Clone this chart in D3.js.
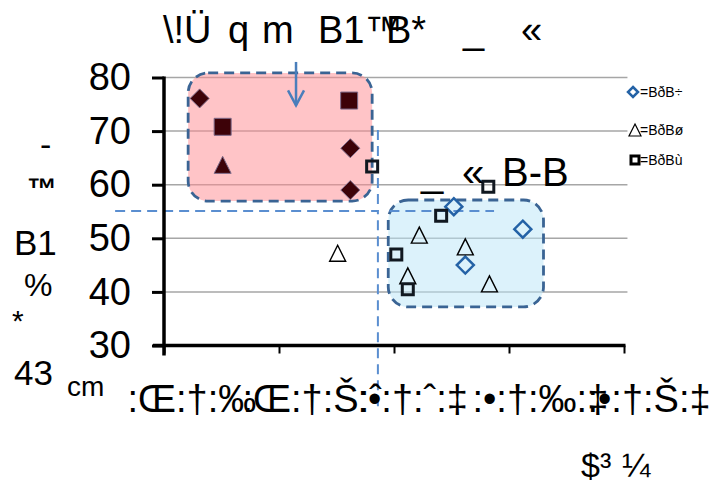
<!DOCTYPE html>
<html>
<head>
<meta charset="utf-8">
<script src="https://cdn.jsdelivr.net/npm/d3@7"></script>
<style>
  body { margin: 0; background: #fff; }
  text { font-family: "Liberation Sans", Arial, sans-serif; fill: #000; }
</style>
</head>
<body>
<svg id="chart" width="717" height="484"></svg>
<script>
/* Data */

const xTicks = [0, 1, 2, 3, 4];
const xLabels = [":Œ:†:‰", ":Œ:†:Š:ˆ", ":•:†:ˆ:‡", ":•:†:‰:‡", ":•:†:Š:‡"];
const yTicks = [30, 40, 50, 60, 70, 80];
const gridTicks = [40, 50, 60, 70, 80];
const seriesNames = ["=BðB÷", "=BðBø", "=BðBù"];

// [x, y, inRedGroup]
const diamonds = [[0.31, 76.1, 1], [1.62, 66.8, 1], [1.62, 59.0, 1],
                  [2.52, 55.9, 0], [3.12, 51.7, 0], [2.62, 45.0, 0]];
const triangles = [[0.51, 63.7, 1], [1.51, 47.2, 0], [2.22, 50.6, 0],
                   [2.62, 48.4, 0], [2.12, 43.0, 0], [2.83, 41.5, 0]];
const squares = [[0.51, 70.8, 1], [1.61, 75.7, 1], [1.81, 63.4, 0], [2.82, 59.6, 0],
                 [2.41, 54.2, 0], [2.02, 47.0, 0], [2.12, 40.5, 0]];

const titleParts = ["\\!Ü", "q", "m", "B1™", "B*", "_", "«"];
const yTitleParts = ["-", "™", "B1", "%", "*", "43"];
const xUnit = "cm";
const xTitle = ["$³", "¼"];
const clusterLabel = ["_", "«", "B-B"];

// annotation extents in data units
const redBox = [0.21, 1.81, 80.85, 56.95];
const blueBox = [1.95, 3.30, 57.15, 37.2];
const guideY = 55.1, guideX = 1.86;
const arrowX = 1.148, arrowTop = 82.9, arrowTip = 74.8;

/* Chart */

const svg = d3.select("#chart");

const x = d3.scaleLinear().domain([0, 4]).range([164, 624]);
const y = d3.scaleLinear().domain([30, 80]).range([345.5, 77.5]);

/* Gridlines */

svg.append("g").selectAll("line")
  .data(gridTicks)
  .enter().append("line")
  .attr("x1", x(0)).attr("x2", x(4.03))
  .attr("y1", d => y(d)).attr("y2", d => y(d))
  .attr("stroke", "#a6a6a6").attr("stroke-width", 1.5);

/* Cluster boxes */

function box(b, fill) {
  svg.append("rect")
    .attr("x", x(b[0])).attr("y", y(b[2]))
    .attr("width", x(b[1]) - x(b[0]))
    .attr("height", y(b[3]) - y(b[2]))
    .attr("rx", 20).attr("ry", 20)
    .attr("fill", fill).attr("fill-opacity", 0.5)
    .attr("stroke", "#3a6494").attr("stroke-width", 2.8)
    .attr("stroke-dasharray", "10,6");
}
box(redBox, "#ff8a90");
box(blueBox, "#b9e5f7");

/* Guide lines */

const guide = svg.append("g")
  .attr("stroke", "#5a8ed0").attr("stroke-width", 2)
  .attr("stroke-dasharray", "10,6").attr("fill", "none");
guide.append("path")
  .attr("d", d3.line()([[x(-0.425), y(guideY)], [x(guideX), y(guideY)], [x(guideX), 412]]));
guide.append("line")
  .attr("x1", x(guideX)).attr("x2", x(guideX))
  .attr("y1", y(70.2)).attr("y2", y(guideY));
guide.append("line")
  .attr("x1", x(1.96)).attr("x2", x(2.87))
  .attr("y1", y(guideY)).attr("y2", y(guideY));

/* Arrow */

const ax = x(arrowX), aTip = y(arrowTip);
svg.append("line")
  .attr("x1", ax).attr("x2", ax)
  .attr("y1", y(arrowTop)).attr("y2", aTip)
  .attr("stroke", "#4a7ebb").attr("stroke-width", 2.5);
svg.append("path")
  .attr("d", d3.line()([[ax - 8, aTip - 15], [ax, aTip], [ax + 8, aTip - 15]]))
  .attr("fill", "none").attr("stroke", "#4a7ebb").attr("stroke-width", 2.5);

/* Axes */

const yAxis = svg.append("g")
  .attr("transform", "translate(" + x(0) + ",0)")
  .call(d3.axisLeft(y).tickValues(yTicks).tickSize(12).tickPadding(21));
yAxis.select(".domain").remove();
yAxis.selectAll(".tick line").attr("stroke", "#000").attr("stroke-width", 3);
yAxis.selectAll(".tick text").attr("font-size", 38).attr("font-family", null).attr("fill", "#000");

const xAxis = svg.append("g")
  .attr("transform", "translate(0," + y(30) + ")")
  .call(d3.axisBottom(x).tickValues(xTicks).tickSize(8).tickFormat((d, i) => xLabels[i]));
xAxis.select(".domain").remove();
xAxis.selectAll(".tick line").attr("stroke", "#000").attr("stroke-width", 2);
xAxis.selectAll(".tick text")
  .attr("font-size", 38).attr("font-family", null).attr("fill", "#000")
  .attr("text-anchor", "start").attr("x", -37).attr("y", 66).attr("dy", 0);

svg.append("line")
  .attr("x1", x(0)).attr("x2", x(0))
  .attr("y1", y(80) - 1).attr("y2", y(30) + 10)
  .attr("stroke", "#000").attr("stroke-width", 3.5);
svg.append("line")
  .attr("x1", x(0) - 11).attr("x2", x(4) + 1.5)
  .attr("y1", y(30)).attr("y2", y(30))
  .attr("stroke", "#000").attr("stroke-width", 3.5);

/* Markers */

const diamondType = { draw(ctx, size) { const r = Math.sqrt(size) / 2;
  ctx.moveTo(0, -r); ctx.lineTo(r, 0); ctx.lineTo(0, r); ctx.lineTo(-r, 0); ctx.closePath(); } };
const triangleType = { draw(ctx, size) { const r = Math.sqrt(size) / 2;
  ctx.moveTo(0, -r); ctx.lineTo(r, r); ctx.lineTo(-r, r); ctx.closePath(); } };
const squareType = { draw(ctx, size) { const r = Math.sqrt(size) / 2;
  ctx.rect(-r, -r, 2 * r, 2 * r); } };

const maroon = "#3d0208", maroonEdge = "#7d6b8a";

function plot(data, type, hiSize, loSize, loStroke, loWidth) {
  svg.append("g").selectAll("path")
    .data(data)
    .enter().append("path")
    .attr("transform", d => "translate(" + x(d[0]) + "," + y(d[1]) + ")")
    .attr("d", d => d3.symbol().type(type).size(d[2] ? hiSize : loSize)())
    .attr("fill", d => d[2] ? maroon : "none")
    .attr("stroke", d => d[2] ? maroonEdge : loStroke)
    .attr("stroke-width", d => d[2] ? 1 : loWidth);
}
plot(diamonds, diamondType, 19 * 19, 17 * 17, "#2462a6", 2.5);
plot(triangles, triangleType, 17 * 17, 16 * 16, "#000", 1.4);
plot(squares, squareType, 17 * 17, 11 * 11, "#111820", 3);

/* Legend */

const legendY = [92, 130, 160];
const legendMarks = [
  { type: diamondType, size: 100, stroke: "#2462a6", w: 2.5, dx: 633 },
  { type: triangleType, size: 144, stroke: "#000", w: 1.2, dx: 635 },
  { type: squareType, size: 64, stroke: "#000", w: 3, dx: 635 }
];
const legend = svg.append("g").attr("id", "legend");
seriesNames.forEach((name, i) => {
  const m = legendMarks[i];
  legend.append("path")
    .attr("transform", "translate(" + m.dx + "," + legendY[i] + ")")
    .attr("d", d3.symbol().type(m.type).size(m.size)())
    .attr("fill", "#fff").attr("stroke", m.stroke).attr("stroke-width", m.w);
  legend.append("text")
    .attr("x", 640).attr("y", legendY[i] + 5)
    .attr("font-size", 14)
    .text(name);
});

/* Texts */

const titleX = [163, 228, 262, 318, 386, 463, 521];
const title = svg.append("text").attr("y", 43).attr("font-size", 38);
titleParts.forEach((t, i) => title.append("tspan").attr("x", titleX[i]).text(t));

const yTitleLayout = [[40, 156, 34], [27, 199, 30], [14, 255, 35], [24, 296, 32], [12, 331, 30], [14, 385, 35]];
yTitleParts.forEach((t, i) => {
  const l = yTitleLayout[i];
  svg.append("text").attr("x", l[0]).attr("y", l[1]).attr("font-size", l[2])
    .attr("font-weight", t === "™" ? "bold" : null).text(t);
});

svg.append("text").attr("x", 67).attr("y", 396).attr("font-size", 28).text(xUnit);

const xt = svg.append("text").attr("y", 477).attr("font-size", 34);
xt.append("tspan").attr("x", 581).text(xTitle[0]);
xt.append("tspan").attr("x", 622).text(xTitle[1]);

const clX = [421, 462, 502];
const cl = svg.append("text").attr("y", 186).attr("font-size", 40);
clusterLabel.forEach((t, i) => cl.append("tspan").attr("x", clX[i]).text(t));
</script>
</body>
</html>
